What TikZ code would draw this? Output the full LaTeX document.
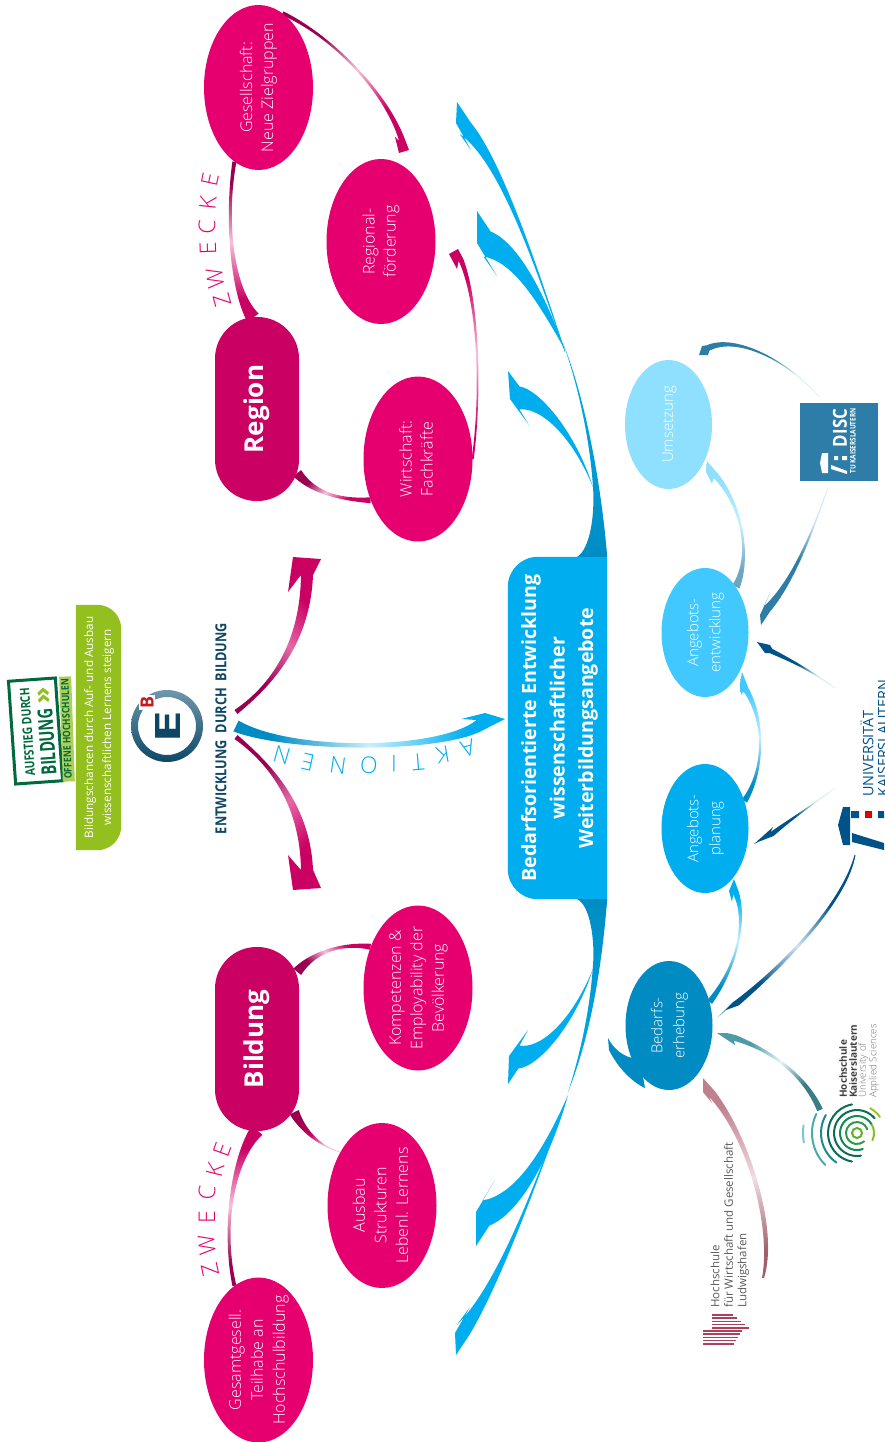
\documentclass[tikz,border=0pt]{standalone}
\usepackage{fontspec}
\usepackage{graphicx}
\usetikzlibrary{calc,shapes.geometric}
\setmainfont{Open Sans}
\newfontfamily\lightf{Open Sans Light}
\definecolor{ellmag}{HTML}{E6006F}
\definecolor{boxmag}{HTML}{CA0062}
\definecolor{darkmag}{HTML}{9A0050}
\definecolor{palemag}{HTML}{F8C0DC}
\definecolor{midmag}{HTML}{E468A8}
\definecolor{sky}{HTML}{00AEEF}
\definecolor{skymid}{HTML}{40C8FF}
\definecolor{skypale}{HTML}{8FE0FF}
\definecolor{skyfade}{HTML}{C8F0FF}
\definecolor{trunk}{HTML}{008CC2}
\definecolor{discb}{HTML}{2E7DA8}
\definecolor{ukb}{HTML}{005288}
\definecolor{navy}{HTML}{0E4766}
\definecolor{ringg}{HTML}{6E98AC}
\definecolor{olive}{HTML}{93BF1F}
\definecolor{logog}{HTML}{00693E}
\definecolor{hskt}{HTML}{3A7D86}
\definecolor{hskh}{HTML}{4E9BA5}
\definecolor{hwgt}{HTML}{A06070}
\definecolor{hwgh}{HTML}{C08090}
\definecolor{hwgr}{HTML}{B0405A}
\definecolor{fadew}{HTML}{E8F4F8}
\definecolor{fadeb}{HTML}{D0E4F0}
\definecolor{fader}{HTML}{F0DDE2}
\definecolor{swA}{HTML}{000000}\definecolor{swB}{HTML}{000000}\definecolor{swC}{HTML}{000000}
\pgfdeclarehorizontalshading[swA,swB,swC]{swish}{100bp}{color(0bp)=(swA);color(32bp)=(swA);color(50bp)=(swB);color(68bp)=(swC);color(100bp)=(swC)}
\pgfdeclarelayer{bg}\pgfsetlayers{bg,main}
\tikzset{
  ell/.style={ellipse,inner sep=0pt,minimum width=#1},
  lab/.style={label={[inner sep=0pt,text=white]center:{#1}}},
  magell/.style={ell=109pt,minimum height=165pt,fill=ellmag},
  blueell/.style={ell=87pt,minimum height=129pt},
  pill/.style={rectangle,rounded corners=41.5pt,minimum width=84pt,minimum height=184pt,fill=boxmag,inner sep=0pt,text=white},
  spaced/.style={text=#1,inner sep=0pt,font=\lightf\fontsize{23}{23}\selectfont},
  stripe/.style={hwgr,line width=1.5pt},
}
\def\parsespec#1/#2/#3/#4/#5/#6/#7\relax{\def\swa{#1pt}\def\swb{#2pt}\def\swc{#3pt}\def\swd{#4pt}\colorlet{swA}{#5}\colorlet{swB}{#6}\colorlet{swC}{#7}}
\newcommand\findangle[2]{%
  \pgfmathanglebetweenpoints{\pgfpointanchor{#1}{center}}{\pgfpointanchor{#2}{center}}\let\rawang\pgfmathresult
  \pgfmathparse{abs(\rawang-90*round(\rawang/90))<16 ? 90*round(\rawang/90) : 45+90*floor(\rawang/90)}\let\shang\pgfmathresult}
% id, start, ctrl1, ctrl2, notch, widths+colours, left barb, tip, right barb
\newcommand\swoosh[9]{%
  \parsespec#6\relax
  \coordinate (#1s) at #2; \coordinate (#1a) at #3; \coordinate (#1b) at #4; \coordinate (#1n) at #5; \coordinate (#1t) at #8;
  \findangle{#1s}{#1n}%
  \shade[shading=swish,shading angle=\shang]
    ($(#1s)!\swa!90:(#1a)$) .. controls ($(#1a)!\swb!-90:(#1s)$) and ($(#1b)!\swc!90:(#1n)$) .. ($(#1n)!\swd!-90:(#1b)$)
    -- #7 -- (#1t) -- #9 --
    ($(#1n)!\swd!90:(#1b)$) .. controls ($(#1b)!\swc!-90:(#1n)$) and ($(#1a)!\swb!90:(#1s)$) .. ($(#1s)!\swa!-90:(#1a)$) -- cycle;
}
% id, start, ctrl1, ctrl2, end, widths+colours
\newcommand\ribbon[6]{%
  \parsespec#6\relax
  \coordinate (#1s) at #2; \coordinate (#1a) at #3; \coordinate (#1b) at #4; \coordinate (#1n) at #5;
  \findangle{#1s}{#1n}%
  \shade[shading=swish,shading angle=\shang]
    ($(#1s)!\swa!90:(#1a)$) .. controls ($(#1a)!\swb!-90:(#1s)$) and ($(#1b)!\swc!90:(#1n)$) .. ($(#1n)!\swd!-90:(#1b)$)
    -- ($(#1n)!\swd!90:(#1b)$) .. controls ($(#1b)!\swc!-90:(#1n)$) and ($(#1a)!\swb!90:(#1s)$) .. ($(#1s)!\swa!-90:(#1a)$) -- cycle;
}
\newcommand\rt[3]{\rotatebox{90}{\lightf\fontsize{#1}{#2}\selectfont\begin{tabular}{@{}c@{}}#3\end{tabular}}}
\newcommand\fit[3]{\resizebox{#1pt}{#2pt}{#3}}
\begin{document}
\begin{tikzpicture}[x=1pt,y=-1pt]
\useasboundingbox (0,0) rectangle (884,1442);
\clip (0,0) rectangle (884,1442);

% ---- magenta nodes
\node[magell,lab={\rt{16}{21}{Gesellschaft:\\Neue Zielgruppen}}] (gesell) at (258.5,87.5) {};
\node[magell,lab={\rt{16}{21}{Regional-\\förderung}}] (regio) at (381,241.5) {};
\node[magell,lab={\rt{16}{21}{Wirtschaft:\\Fachkräfte}}] (wirt) at (418,459) {};
\node[magell,lab={\rt{16}{21.5}{Kompetenzen \&\\Employability der\\Bevölkerung}}] (kompe) at (418,988) {};
\node[magell,lab={\rt{16}{21.5}{Ausbau\\Strukturen\\Lebenl. Lernens}}] (ausbau) at (382,1205.5) {};
\node[magell,lab={\rt{16}{22}{Gesamtgesell.\\Teilhabe an\\Hochschulbildung}}] (gesamt) at (258.5,1360) {};
\node[pill] (region) at (257,409) {\rotatebox{90}{\bfseries\fontsize{26}{30}\selectfont Region}};
\node[pill] (bildung) at (257,1039) {\rotatebox{90}{\bfseries\fontsize{26}{30}\selectfont Bildung}};

% ---- blue nodes
\node[blueell,fill=skypale,lab={\rt{15}{22}{Umsetzung}}] (umset) at (668.5,424.5) {};
\node[blueell,fill=skymid,lab={\rt{15}{22}{Angebots-\\entwicklung}}] (entw) at (705,632.5) {};
\node[blueell,fill=sky,lab={\rt{15}{22}{Angebots-\\planung}}] (plan) at (705,828.5) {};
\node[blueell,fill=trunk,lab={\rt{15}{22}{Bedarfs-\\erhebung}}] (bedarf) at (669,1025.5) {};

% ---- central box
\node[rectangle,inner sep=0pt,minimum width=99pt,minimum height=342pt,text=white] (box) at (557.5,728) {};
\fill[sky] (box.north east) [rounded corners=30pt] -- (box.north west) -- (box.south west) [sharp corners] -- (box.south east) -- cycle;
\node[inner sep=0pt,text=white] (boxtext) at ($(box.center)+(1.5,0)$) {\rotatebox{90}{\bfseries\fontsize{19.6}{28.5}\selectfont\begin{tabular}{@{}c@{}}Bedarfsorientierte Entwicklung\\wissenschaftlicher\\Weiterbildungsangebote\end{tabular}}};

% ---- green box and project logo
\node[rectangle,inner sep=0pt,minimum width=45pt,minimum height=245pt] (greenbox) at (98.5,727.5) {};
\fill[olive] (greenbox.north west) [rounded corners=24pt] -- (greenbox.north east) -- (greenbox.south east) [sharp corners] -- (greenbox.south west) -- cycle;
\node[inner sep=0pt,text=white] (greentext) at (greenbox.center) {\rotatebox{90}{\fontsize{11.7}{18}\selectfont\begin{tabular}{@{}c@{}}Bildungschancen durch Auf- und Ausbau\\wissenschaftlichen Lernens steigern\end{tabular}}};

\node[draw=logog,line width=3pt,fill=white,rotate=94,minimum width=103pt,minimum height=47pt,inner sep=0pt] (frame) at (35.5,731) {};
\node[inner sep=0pt,rotate=94,text=logog] (aufstieg) at (27.5,732) {\fit{88}{9.5}{\bfseries AUFSTIEG DURCH}};
\node[inner sep=0pt,rotate=94,text=logog] (bildlogo) at (47,742) {\fit{66}{15}{\bfseries BILDUNG}};
\node[inner sep=0pt,rotate=94,text=olive] (chev) at (44,695) {\fit{17}{13}{\bfseries >>}};
\node[fill=olive!75,rotate=92,minimum width=105pt,minimum height=12pt,inner sep=0pt] (strip) at (67,729) {};
\node[inner sep=0pt,rotate=92,text=logog] (offene) at (66.5,729) {\fit{100}{7.5}{\bfseries OFFENE HOCHSCHULEN}};

% ---- EB logo
\coordinate (ebc) at (167,726);
\shade[top color=ringg,bottom color=navy,even odd rule] (ebc) circle[radius=36pt] (ebc) circle[radius=29pt];
\node[inner sep=0pt,rotate=90,text=navy] (ebE) at (168,727) {\fit{33}{25}{\bfseries E}};
\node[fill=white,inner sep=1.5pt,rotate=90,text=red!75!black!90] (ebB) at (147,702) {\fit{12}{13}{\bfseries B}};
\node[inner sep=0pt,rotate=90,text=navy] (edb) at (221,728.5) {\fit{211}{11}{\bfseries ENTWICKLUNG\ \ DURCH\ \ BILDUNG}};
\coordinate (edbR) at (236,712);
\coordinate (edbM) at (236,726);
\coordinate (edbL) at (236,737);

% ---- DISC logo
\node[rectangle,fill=discb,minimum width=78pt,minimum height=78pt,inner sep=0pt] (disc) at (839,442) {};
\node[inner sep=0pt,rotate=90,text=white] (disct) at (840,428) {\fit{38}{14}{\bfseries DISC}};
\node[inner sep=0pt,rotate=90,text=white] (discu) at (853,441) {\fit{65}{5.5}{\bfseries TU KAISERSLAUTERN}};
\fill[white] (822,453) -- (828,453) -- (828,473) -- (822,473) -- (820,463) -- cycle;
\fill[white] (831,465) -- (847,471) -- (847,474) -- (831,469) -- cycle;
\fill[white] (834,456) rectangle (838,460) (842,456) rectangle (847,460);

% ---- University logo
\node[inner sep=0pt,rotate=90,anchor=west,align=left,text=ukb,font=\fontsize{14.4}{15}\selectfont] (uk) at (874.5,797) {UNIVERSITÄT\\KAISERSLAUTERN};
\fill[ukb] (850,807) -- (850,845) -- (843,845) -- (838,825) -- (843,807) -- cycle;
\fill[ukb] (852,833) -- (884,843) -- (884,850) -- (852,842) -- cycle;
\fill[ukb] (851,811) rectangle (859,818) (878,811) rectangle (884,818);
\fill[red!85!black] (865,811) rectangle (872,818);

% ---- HS Kaiserslautern logo
\coordinate (hskc) at (857,1133);
\foreach \r/\a/\b/\c in {5/0/360/60AE2E,11/20/310/2E9A45,17/30/290/128A50,23/40/280/0B6E50,29/100/260/0B6A5A,28/35/62/9AC31C,17/-25/28/8DBE22,36/150/235/1E8A8A,45/155/225/4BAAAA,54/172/190/7CC8C8}
  {\definecolor{arcc}{HTML}{\c}\draw[arcc,line width=2pt,line cap=round] (hskc) ++(\a:\r pt) arc[start angle=\a,end angle=\b,radius=\r pt];}
\node[inner sep=0pt,rotate=90,anchor=west,align=left,text=black!75,font=\bfseries\fontsize{10}{10}\selectfont] (hskA) at (848,1098) {Hochschule\\Kaiserslautern};
\node[inner sep=0pt,rotate=90,anchor=west,align=left,text=black!55,font=\lightf\fontsize{9.8}{10.5}\selectfont] (hskB) at (868.5,1098) {University of\\Applied Sciences};

% ---- HWG logo
\node[inner sep=0pt,rotate=90,anchor=west,align=left,text=black!65,font=\fontsize{11.5}{13.5}\selectfont] (hwg) at (730,1308) {Hochschule\\für Wirtschaft und Gesellschaft\\Ludwigshafen};
\foreach \i in {0,...,4}{
  \draw[stripe] (712,1315+3.2*\i) -- (733+4*\i,1315+3.2*\i);
  \draw[stripe] (703,1331+3.2*\i) -- (742-2*\i,1331+3.2*\i);
}

% ---- spaced-out labels
\foreach \t/\x/\y/\r [count=\i] in {A/468/748/196,K/443/755/190,T/418/762/185,I/394/764/180,O/369/765/177,N/338/765/172,E/308/762/168,N/282/755/164}
  {\node[spaced=sky,rotate=\r] (akt\i) at (\x,\y) {\t};}
\foreach \t/\x/\y/\r [count=\i] in {Z/222/300/105,W/215/278/98,E/208/248/92,C/207/227/88,K/208/203/84,E/210/180/78}
  {\node[spaced=ellmag,rotate=\r] (zwa\i) at (\x,\y) {\t};}
\foreach \t/\x/\y/\r [count=\i] in {Z/210/1270/102,W/207/1245/96,E/207/1217/90,C/207/1193/86,K/215/1170/76,E/222/1150/70}
  {\node[spaced=ellmag,rotate=\r] (zwb\i) at (\x,\y) {\t};}

% ---- connectors, behind the nodes
\begin{pgfonlayer}{bg}
% upward blue arrows
\swoosh{aone}{(593,487)}{(572,430)}{(538,398)}{(519.5,398)}{0/2.5/9/11.5/sky/sky/sky}{(529,425)}{(510,399)}{(508,371)}
\swoosh{atwo}{(565,350)}{(540,295)}{(515,252)}{(487,244)}{0/5/10/13/sky/sky/sky}{(497,276)}{(477,243)}{(477,211)}
\swoosh{athr}{(565,352)}{(535,262)}{(500,160)}{(465,128)}{0.3/1/1.5/8/sky/sky/sky}{(471,150)}{(456,123)}{(457,102)}
% downward blue arrows
\swoosh{bone}{(593,969)}{(572,1026)}{(538,1058)}{(519,1057)}{0/2.5/9/11.5/sky/sky/sky}{(508,1084)}{(509,1056)}{(528,1030)}
\swoosh{btwo}{(568,1095)}{(545,1160)}{(515,1205)}{(486,1213)}{0/5/10/13/sky/sky/sky}{(476,1246)}{(476,1212)}{(495,1180)}
\swoosh{bthr}{(558,1123)}{(530,1200)}{(495,1290)}{(463,1330)}{0.3/1/1.5/8/sky/sky/sky}{(456,1355)}{(455,1333)}{(470,1307)}
% trunks
\shade[bottom color=trunk,middle color=trunk,top color=sky] (box.north east) ++(-30,0) .. controls (590,549) and (595,515) .. (593,487) .. controls (590,440) and (578,385) .. (563,343) .. controls (582,390) and (600,470) .. (box.north east) -- cycle;
\shade[top color=trunk,middle color=trunk,bottom color=sky] (box.south east) ++(-30,0) .. controls (590,905) and (595,940) .. (593,965) .. controls (590,1010) and (580,1055) .. (568,1092) .. controls (585,1050) and (600,990) .. (box.south east) -- cycle;
% Aktionen
\swoosh{akt}{(edbM)}{(290,752)}{(440,752)}{(480,725)}{6/0.8/2/6/trunk/skyfade/sky}{(461,719)}{(485,713)}{(505,719)}
% big magenta
\swoosh{mr}{(edbR)}{(265,690)}{(305,650)}{(307,575)}{2.5/0.5/5/6/darkmag/midmag/boxmag}{(288,592)}{(293,557)}{(321,559)}
\swoosh{ml}{(edbL)}{(265,760)}{(305,800)}{(307,870)}{2.5/0.5/5/6/darkmag/midmag/boxmag}{(321,888)}{(293,890)}{(288,855)}
% Zwecke branches
\ribbon{zr}{($(region.north)+(-4,1)$)}{(232,290)}{(225,220)}{(gesell.252)}{7/2/0.8/2/boxmag/palemag/darkmag}
\ribbon{rw}{($(region.south east)+(-2,-28)$)}{(315,495)}{(345,500)}{(wirt.221)}{5/1.5/0.8/3/darkmag/palemag/boxmag}
\ribbon{bg}{($(bildung.south)+(0,-1)$)}{(232,1160)}{(222,1230)}{(gesamt.108)}{7/2/0.8/2/boxmag/palemag/darkmag}
\ribbon{ba}{($(bildung.south east)+(-5,-19)$)}{(305,1135)}{(325,1148)}{(ausbau.128)}{5/2/0.5/0.3/darkmag/boxmag/palemag}
\ribbon{bk}{($(bildung.north east)+(-2,25)$)}{(315,950)}{(345,943)}{(kompe.139)}{5/1.5/0.8/3/darkmag/palemag/boxmag}
\swoosh{gr}{(gesell.72)}{(330,35)}{(385,90)}{(402,140)}{2/0.8/1/3/darkmag/palemag/boxmag}{(409,150)}{(399,153)}{(395,137)}
\swoosh{wr}{(wirt.east)}{(482,390)}{(478,300)}{(461,260)}{1/0.6/1/2.5/boxmag/palemag/boxmag}{(457,269)}{(449,254)}{(458,249)}
% process chain
\swoosh{pone}{(bedarf.30)}{(742,960)}{(745,915)}{(736,893)}{3/0.5/1/3/trunk/skyfade/sky}{(732,902)}{(729,891)}{(734,879)}
\swoosh{ptwo}{(plan.35)}{(765,770)}{(765,720)}{(746,690)}{3/0.5/1/3/trunk/skyfade/skymid}{(741,695)}{(740,683)}{(742,672)}
\swoosh{pthr}{(entw.56)}{(750,560)}{(745,510)}{(716,476)}{4/0.5/1/3/discb!70/skyfade/skypale}{(712,484)}{(706,472)}{(707,461)}
\fill[trunk] (608,1038) -- (609,1050) .. controls (618,1068) and (632,1082) .. (645,1088) -- (640,1060) -- (632,1058) .. controls (620,1055) and (612,1046) .. (608,1038) -- cycle;
% logos to process
\swoosh{done}{($(disc.north)+(-20,-6)$)}{(785,358)}{(735,335)}{(708,348)}{0.2/0.5/2/3/fadeb/discb/discb}{(708,355)}{(699,355)}{(702,346)}
\swoosh{dtwo}{($(disc.south)+(-11,6)$)}{(810,540)}{(790,585)}{(767,609)}{0.2/1/2/4/fadeb/discb/discb}{(761,625)}{(760,615)}{(770,593)}
\swoosh{uone}{(835,688)}{(810,670)}{(790,660)}{(771,651)}{0.2/0.5/1.5/2.5/fadeb/ukb/ukb}{(765,653)}{(757,642)}{(770,645)}
\swoosh{utwo}{(835,788)}{(805,810)}{(790,820)}{(772,834)}{0.2/0.4/1.2/2.5/fadeb/ukb/ukb}{(758,842)}{(754,844)}{(773,827)}
\swoosh{uthr}{(855,855)}{(845,900)}{(790,960)}{(737,1003)}{0.5/2.5/0.6/3/ukb/fadeb/ukb}{(726,1010)}{(718,1017)}{(733,1002)}
\swoosh{hsk}{(820,1110)}{(805,1075)}{(770,1050)}{(735,1038)}{3/2/0.5/3/hskt/fadew/hskh}{(735,1045)}{(717,1033)}{(727,1033)}
\swoosh{hwgar}{(763,1278)}{(775,1230)}{(750,1140)}{(712,1094)}{1/4/1/4/hwgt/fader/hwgh}{(712,1103)}{(703,1092)}{(703,1078)}
\end{pgfonlayer}
\end{tikzpicture}
\end{document}
